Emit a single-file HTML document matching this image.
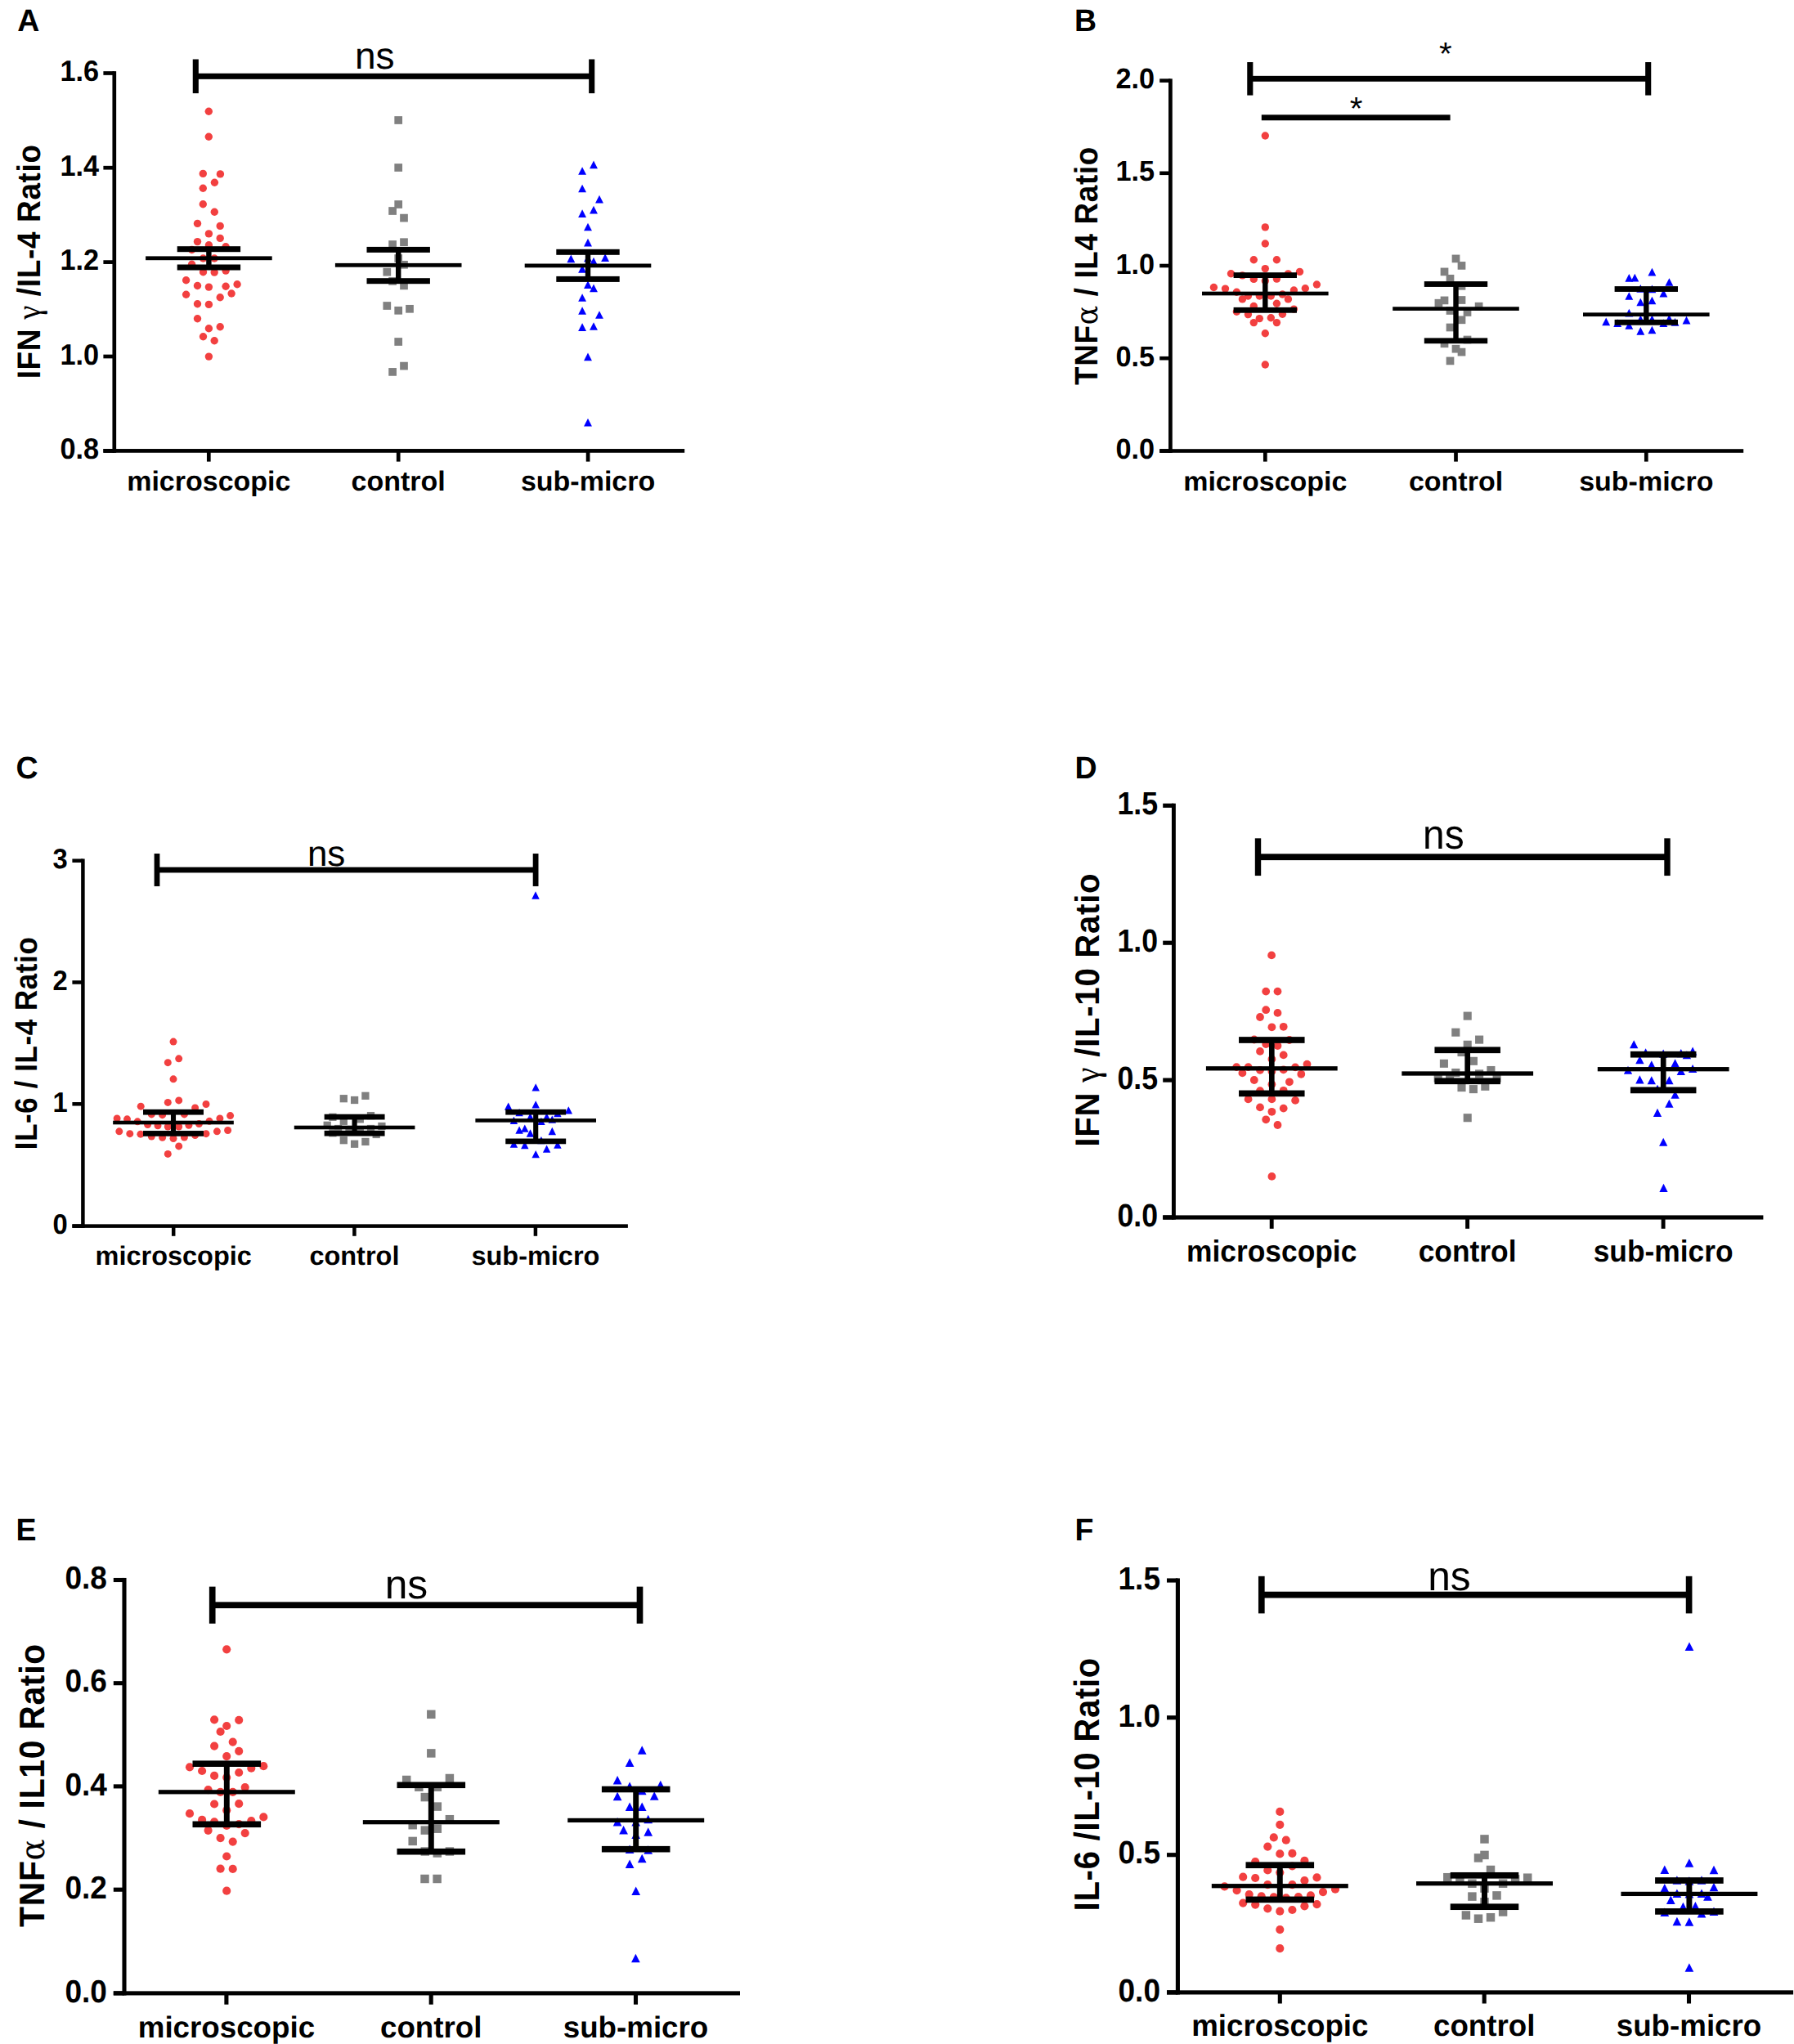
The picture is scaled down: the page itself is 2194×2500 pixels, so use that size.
<!DOCTYPE html>
<html lang="en"><head><meta charset="utf-8"><title>Cytokine ratio scatter plots</title>
<style>
html,body{margin:0;padding:0;background:#fff;}
body{width:2194px;height:2500px;overflow:hidden;}
svg{display:block;}
svg text{font-family:"Liberation Sans", Arial, Helvetica, sans-serif;fill:#000;text-rendering:geometricPrecision;}
</style></head><body>
<svg width="2194" height="2500" viewBox="0 0 2194 2500">
<rect width="2194" height="2500" fill="#fff"/>
<g id="panel-A">
<g fill="#F24040"><circle cx="255.3" cy="136.2" r="4.7"/><circle cx="255.3" cy="167.3" r="4.7"/><circle cx="248.3" cy="212.4" r="4.7"/><circle cx="269.4" cy="212.9" r="4.7"/><circle cx="262.4" cy="223.2" r="4.7"/><circle cx="248.3" cy="230.2" r="4.7"/><circle cx="248.3" cy="249.8" r="4.7"/><circle cx="262.3" cy="259.2" r="4.7"/><circle cx="241.5" cy="273.4" r="4.7"/><circle cx="269.2" cy="276.4" r="4.7"/><circle cx="255.4" cy="285.9" r="4.7"/><circle cx="269.2" cy="291.4" r="4.7"/><circle cx="241.5" cy="295.6" r="4.7"/><circle cx="255.4" cy="299.8" r="4.7"/><circle cx="276.1" cy="301.8" r="4.7"/><circle cx="234.6" cy="305.5" r="4.7"/><circle cx="248.5" cy="316" r="4.7"/><circle cx="262.2" cy="316" r="4.7"/><circle cx="234.6" cy="323.2" r="4.7"/><circle cx="248.5" cy="332.7" r="4.7"/><circle cx="262.2" cy="333.1" r="4.7"/><circle cx="276.1" cy="331.1" r="4.7"/><circle cx="227.6" cy="342.8" r="4.7"/><circle cx="290.1" cy="347.8" r="4.7"/><circle cx="241.5" cy="349.5" r="4.7"/><circle cx="255.4" cy="351.1" r="4.7"/><circle cx="276.1" cy="350.3" r="4.7"/><circle cx="283.1" cy="359" r="4.7"/><circle cx="227.6" cy="360.3" r="4.7"/><circle cx="269.2" cy="363.7" r="4.7"/><circle cx="241.5" cy="371.7" r="4.7"/><circle cx="255.4" cy="372.4" r="4.7"/><circle cx="241.5" cy="389.8" r="4.7"/><circle cx="269.2" cy="399.8" r="4.7"/><circle cx="255.4" cy="401.8" r="4.7"/><circle cx="248.5" cy="411.8" r="4.7"/><circle cx="262.2" cy="416.7" r="4.7"/><circle cx="255.4" cy="436.1" r="4.7"/></g>
<g fill="#808080"><rect x="482.35" y="142.15" width="9.7" height="9.7"/><rect x="482.35" y="200.15" width="9.7" height="9.7"/><rect x="482.35" y="245.15" width="9.7" height="9.7"/><rect x="475.25" y="253.15" width="9.7" height="9.7"/><rect x="489.15" y="261.75" width="9.7" height="9.7"/><rect x="489.15" y="291.35" width="9.7" height="9.7"/><rect x="475.25" y="294.15" width="9.7" height="9.7"/><rect x="482.35" y="311.15" width="9.7" height="9.7"/><rect x="489.15" y="318.95" width="9.7" height="9.7"/><rect x="468.45" y="327.85" width="9.7" height="9.7"/><rect x="475.25" y="339.05" width="9.7" height="9.7"/><rect x="489.15" y="344.55" width="9.7" height="9.7"/><rect x="468.45" y="369.15" width="9.7" height="9.7"/><rect x="482.35" y="374.95" width="9.7" height="9.7"/><rect x="496.15" y="372.95" width="9.7" height="9.7"/><rect x="482.35" y="413.15" width="9.7" height="9.7"/><rect x="489.15" y="442.75" width="9.7" height="9.7"/><rect x="475.25" y="450.05" width="9.7" height="9.7"/></g>
<g fill="#0000FF"><polygon points="726,196.45 730.95,206.15 721.05,206.15"/><polygon points="712.1,204.15 717.05,213.85 707.15,213.85"/><polygon points="712.1,225.65 717.05,235.35 707.15,235.35"/><polygon points="733,238.75 737.95,248.45 728.05,248.45"/><polygon points="726,251.75 730.95,261.45 721.05,261.45"/><polygon points="712.1,256.25 717.05,265.95 707.15,265.95"/><polygon points="719,272.65 723.95,282.35 714.05,282.35"/><polygon points="719,291.75 723.95,301.45 714.05,301.45"/><polygon points="698.3,311.45 703.25,321.15 693.35,321.15"/><polygon points="740.1,310.35 745.05,320.05 735.15,320.05"/><polygon points="719,310.65 723.95,320.35 714.05,320.35"/><polygon points="726,314.85 730.95,324.55 721.05,324.55"/><polygon points="712.1,324.05 717.05,333.75 707.15,333.75"/><polygon points="719,343.25 723.95,352.95 714.05,352.95"/><polygon points="726,347.45 730.95,357.15 721.05,357.15"/><polygon points="712.1,359.15 717.05,368.85 707.15,368.85"/><polygon points="712.1,375.15 717.05,384.85 707.15,384.85"/><polygon points="733,380.15 737.95,389.85 728.05,389.85"/><polygon points="712.1,395.35 717.05,405.05 707.15,405.05"/><polygon points="726,394.15 730.95,403.85 721.05,403.85"/><polygon points="719,431.45 723.95,441.15 714.05,441.15"/><polygon points="719,511.75 723.95,521.45 714.05,521.45"/></g>
<rect x="178.1" y="313.4" width="154.6" height="4.8" fill="#000"/>
<rect x="216.7" y="301.2" width="77.4" height="7" fill="#000"/>
<rect x="216.7" y="323.5" width="77.4" height="7" fill="#000"/>
<rect x="252.2" y="304.7" width="6.4" height="22.3" fill="#000"/>
<rect x="409.9" y="321.9" width="154.6" height="4.8" fill="#000"/>
<rect x="448.5" y="301.9" width="77.4" height="7" fill="#000"/>
<rect x="448.5" y="340.2" width="77.4" height="7" fill="#000"/>
<rect x="484" y="305.4" width="6.4" height="38.3" fill="#000"/>
<rect x="641.7" y="322.5" width="154.6" height="4.8" fill="#000"/>
<rect x="680.3" y="304.8" width="77.4" height="7" fill="#000"/>
<rect x="680.3" y="337.9" width="77.4" height="7" fill="#000"/>
<rect x="715.8" y="308.3" width="6.4" height="33.1" fill="#000"/>
<rect x="137.45" y="87.15" width="4.7" height="466.6" fill="#000"/>
<rect x="126.4" y="549.05" width="710.8" height="4.7" fill="#000"/>
<rect x="126.4" y="87.15" width="13.4" height="4.7" fill="#000"/>
<text transform="translate(121.2,99.36) scale(1,1.045)" font-size="34.3" font-weight="bold" text-anchor="end">1.6</text>
<rect x="126.4" y="202.85" width="13.4" height="4.7" fill="#000"/>
<text transform="translate(121.2,215.06) scale(1,1.045)" font-size="34.3" font-weight="bold" text-anchor="end">1.4</text>
<rect x="126.4" y="318.25" width="13.4" height="4.7" fill="#000"/>
<text transform="translate(121.2,330.46) scale(1,1.045)" font-size="34.3" font-weight="bold" text-anchor="end">1.2</text>
<rect x="126.4" y="433.65" width="13.4" height="4.7" fill="#000"/>
<text transform="translate(121.2,445.86) scale(1,1.045)" font-size="34.3" font-weight="bold" text-anchor="end">1.0</text>
<rect x="126.4" y="549.05" width="13.4" height="4.7" fill="#000"/>
<text transform="translate(121.2,561.26) scale(1,1.045)" font-size="34.3" font-weight="bold" text-anchor="end">0.8</text>
<rect x="252.95" y="551.4" width="4.7" height="13.2" fill="#000"/>
<text transform="translate(255.3,600.3) scale(1,0.995)" font-size="34" font-weight="bold" text-anchor="middle">microscopic</text>
<rect x="484.85" y="551.4" width="4.7" height="13.2" fill="#000"/>
<text transform="translate(487.2,600.3) scale(1,0.995)" font-size="34" font-weight="bold" text-anchor="middle">control</text>
<rect x="716.75" y="551.4" width="4.7" height="13.2" fill="#000"/>
<text transform="translate(719.1,600.3) scale(1,0.995)" font-size="34" font-weight="bold" text-anchor="middle">sub-micro</text>
<text transform="translate(49,319.8) rotate(-90) scale(0.9667,1.045)" font-size="38.2" font-weight="bold" letter-spacing="0.7" text-anchor="middle" xml:space="preserve">IFN <tspan font-family='"Liberation Serif", "DejaVu Serif", serif' font-weight="normal" font-size="40">γ</tspan> /IL-4 Ratio</text>
<rect x="239.3" y="89.75" width="484.4" height="7.1" fill="#000"/>
<rect x="235.75" y="72.5" width="7.1" height="41.6" fill="#000"/>
<rect x="720.15" y="72.5" width="7.1" height="41.6" fill="#000"/>
<text x="458.2" y="83.5" font-size="46" font-weight="normal" text-anchor="middle">ns</text>
<text transform="translate(21.3,37.6) scale(1,1.016)" font-size="37.5" font-weight="bold" text-anchor="start">A</text>
</g>
<g id="panel-B">
<g fill="#F24040"><circle cx="1547.3" cy="166" r="4.7"/><circle cx="1547.3" cy="277.9" r="4.7"/><circle cx="1547.3" cy="298" r="4.7"/><circle cx="1533.3" cy="317.7" r="4.7"/><circle cx="1561.4" cy="317.7" r="4.7"/><circle cx="1547.3" cy="328.6" r="4.7"/><circle cx="1505.5" cy="334.7" r="4.7"/><circle cx="1589.5" cy="332.4" r="4.7"/><circle cx="1519.4" cy="336.9" r="4.7"/><circle cx="1575.4" cy="334.9" r="4.7"/><circle cx="1533.3" cy="341.4" r="4.7"/><circle cx="1561.4" cy="341.1" r="4.7"/><circle cx="1547.3" cy="343.6" r="4.7"/><circle cx="1610.4" cy="348" r="4.7"/><circle cx="1484.4" cy="351.5" r="4.7"/><circle cx="1498.5" cy="353.1" r="4.7"/><circle cx="1596.3" cy="352.8" r="4.7"/><circle cx="1582.4" cy="355" r="4.7"/><circle cx="1512.4" cy="357.3" r="4.7"/><circle cx="1568.4" cy="360" r="4.7"/><circle cx="1526.4" cy="362" r="4.7"/><circle cx="1540.3" cy="362" r="4.7"/><circle cx="1554.3" cy="362" r="4.7"/><circle cx="1519.4" cy="365.9" r="4.7"/><circle cx="1575.4" cy="365.9" r="4.7"/><circle cx="1561.4" cy="371.2" r="4.7"/><circle cx="1533.3" cy="374.5" r="4.7"/><circle cx="1582.4" cy="378.1" r="4.7"/><circle cx="1512.4" cy="381.2" r="4.7"/><circle cx="1526.4" cy="384.6" r="4.7"/><circle cx="1568.4" cy="384.2" r="4.7"/><circle cx="1540.3" cy="389.6" r="4.7"/><circle cx="1554.3" cy="388.8" r="4.7"/><circle cx="1533.3" cy="394.6" r="4.7"/><circle cx="1561.4" cy="394.6" r="4.7"/><circle cx="1547.3" cy="407.8" r="4.7"/><circle cx="1547.3" cy="446" r="4.7"/></g>
<g fill="#808080"><rect x="1775.65" y="311.55" width="9.7" height="9.7"/><rect x="1782.65" y="320.05" width="9.7" height="9.7"/><rect x="1761.65" y="327.55" width="9.7" height="9.7"/><rect x="1768.65" y="335.95" width="9.7" height="9.7"/><rect x="1782.65" y="344.95" width="9.7" height="9.7"/><rect x="1782.65" y="362.15" width="9.7" height="9.7"/><rect x="1761.65" y="362.55" width="9.7" height="9.7"/><rect x="1754.55" y="365.85" width="9.7" height="9.7"/><rect x="1803.75" y="369.85" width="9.7" height="9.7"/><rect x="1768.65" y="375.15" width="9.7" height="9.7"/><rect x="1789.65" y="377.15" width="9.7" height="9.7"/><rect x="1782.65" y="386.45" width="9.7" height="9.7"/><rect x="1768.65" y="395.65" width="9.7" height="9.7"/><rect x="1789.65" y="410.65" width="9.7" height="9.7"/><rect x="1761.65" y="415.45" width="9.7" height="9.7"/><rect x="1775.65" y="421.85" width="9.7" height="9.7"/><rect x="1782.65" y="425.75" width="9.7" height="9.7"/><rect x="1768.65" y="436.55" width="9.7" height="9.7"/></g>
<g fill="#0000FF"><polygon points="2020.4,327.85 2025.35,337.55 2015.45,337.55"/><polygon points="1992.3,335.05 1997.25,344.75 1987.35,344.75"/><polygon points="1999.3,334.75 2004.25,344.45 1994.35,344.45"/><polygon points="2041.4,340.15 2046.35,349.85 2036.45,349.85"/><polygon points="2006.3,347.95 2011.25,357.65 2001.35,357.65"/><polygon points="2020.4,348.45 2025.35,358.15 2015.45,358.15"/><polygon points="2034.4,353.85 2039.35,363.55 2029.45,363.55"/><polygon points="1992.3,357.15 1997.25,366.85 1987.35,366.85"/><polygon points="2006.3,364.65 2011.25,374.35 2001.35,374.35"/><polygon points="2020.4,362.65 2025.35,372.35 2015.45,372.35"/><polygon points="1992.3,377.75 1997.25,387.45 1987.35,387.45"/><polygon points="2006.3,385.55 2011.25,395.25 2001.35,395.25"/><polygon points="2020.4,385.55 2025.35,395.25 2015.45,395.25"/><polygon points="2041.4,384.75 2046.35,394.45 2036.45,394.45"/><polygon points="1964.2,388.55 1969.15,398.25 1959.25,398.25"/><polygon points="2062.5,386.75 2067.45,396.45 2057.55,396.45"/><polygon points="1978.2,390.25 1983.15,399.95 1973.25,399.95"/><polygon points="2034.4,390.25 2039.35,399.95 2029.45,399.95"/><polygon points="2048.5,388.95 2053.45,398.65 2043.55,398.65"/><polygon points="1992.3,393.15 1997.25,402.85 1987.35,402.85"/><polygon points="2006.3,399.95 2011.25,409.65 2001.35,409.65"/><polygon points="2020.4,398.65 2025.35,408.35 2015.45,408.35"/></g>
<rect x="1470" y="356.66" width="154.6" height="4.68" fill="#000"/>
<rect x="1508.6" y="333.19" width="77.4" height="6.83" fill="#000"/>
<rect x="1508.6" y="375.89" width="77.4" height="6.83" fill="#000"/>
<rect x="1544.1" y="336.6" width="6.4" height="42.7" fill="#000"/>
<rect x="1703.2" y="375.26" width="154.6" height="4.68" fill="#000"/>
<rect x="1741.8" y="344.09" width="77.4" height="6.83" fill="#000"/>
<rect x="1741.8" y="413.39" width="77.4" height="6.83" fill="#000"/>
<rect x="1777.3" y="347.5" width="6.4" height="69.3" fill="#000"/>
<rect x="1936" y="382.36" width="154.6" height="4.68" fill="#000"/>
<rect x="1974.6" y="350.09" width="77.4" height="6.83" fill="#000"/>
<rect x="1974.6" y="390.89" width="77.4" height="6.83" fill="#000"/>
<rect x="2010.1" y="353.5" width="6.4" height="40.8" fill="#000"/>
<rect x="1429.05" y="96.31" width="4.7" height="457.48" fill="#000"/>
<rect x="1418.2" y="549.21" width="714" height="4.58" fill="#000"/>
<rect x="1418.2" y="96.31" width="13.2" height="4.58" fill="#000"/>
<text transform="translate(1412.1,108.21) scale(1,1.019)" font-size="34.3" font-weight="bold" text-anchor="end">2.0</text>
<rect x="1418.2" y="209.51" width="13.2" height="4.58" fill="#000"/>
<text transform="translate(1412.1,221.41) scale(1,1.019)" font-size="34.3" font-weight="bold" text-anchor="end">1.5</text>
<rect x="1418.2" y="322.71" width="13.2" height="4.58" fill="#000"/>
<text transform="translate(1412.1,334.61) scale(1,1.019)" font-size="34.3" font-weight="bold" text-anchor="end">1.0</text>
<rect x="1418.2" y="435.91" width="13.2" height="4.58" fill="#000"/>
<text transform="translate(1412.1,447.81) scale(1,1.019)" font-size="34.3" font-weight="bold" text-anchor="end">0.5</text>
<rect x="1418.2" y="549.21" width="13.2" height="4.58" fill="#000"/>
<text transform="translate(1412.1,561.11) scale(1,1.019)" font-size="34.3" font-weight="bold" text-anchor="end">0.0</text>
<rect x="1544.95" y="551.5" width="4.7" height="13.1" fill="#000"/>
<text transform="translate(1547.3,599.8) scale(1,0.9701)" font-size="34" font-weight="bold" text-anchor="middle">microscopic</text>
<rect x="1778.15" y="551.5" width="4.7" height="13.1" fill="#000"/>
<text transform="translate(1780.5,599.8) scale(1,0.9701)" font-size="34" font-weight="bold" text-anchor="middle">control</text>
<rect x="2010.95" y="551.5" width="4.7" height="13.1" fill="#000"/>
<text transform="translate(2013.3,599.8) scale(1,0.9701)" font-size="34" font-weight="bold" text-anchor="middle">sub-micro</text>
<text transform="translate(1342,325) rotate(-90) scale(0.9638,1.035)" font-size="38.2" font-weight="bold" letter-spacing="0.7" text-anchor="middle" xml:space="preserve">TNF<tspan font-family='"DejaVu Serif", "Liberation Serif", serif' font-weight="normal" font-size="36">α</tspan> / IL4 Ratio</text>
<rect x="1528.8" y="92.84" width="486.9" height="6.92" fill="#000"/>
<rect x="1525.25" y="76.02" width="7.1" height="40.56" fill="#000"/>
<rect x="2012.15" y="76.02" width="7.1" height="40.56" fill="#000"/>
<text transform="translate(1767.9,79.02) scale(1,0.975)" font-size="40.25" font-weight="normal" text-anchor="middle">*</text>
<rect x="1542.8" y="140.34" width="230.8" height="6.92" fill="#000"/>
<text transform="translate(1658.5,145.62) scale(1,0.975)" font-size="40.25" font-weight="normal" text-anchor="middle">*</text>
<text transform="translate(1314,37.6) scale(1,1.016)" font-size="37.5" font-weight="bold" text-anchor="start">B</text>
</g>
<g id="panel-C">
<g fill="#F24040"><circle cx="212" cy="1274.1" r="4.49"/><circle cx="218.7" cy="1294.8" r="4.49"/><circle cx="205.3" cy="1299.7" r="4.49"/><circle cx="212" cy="1319.8" r="4.49"/><circle cx="218.7" cy="1345.9" r="4.49"/><circle cx="205.3" cy="1348.4" r="4.49"/><circle cx="252" cy="1350.5" r="4.49"/><circle cx="172.2" cy="1353.2" r="4.49"/><circle cx="238.6" cy="1355" r="4.49"/><circle cx="185.3" cy="1362.9" r="4.49"/><circle cx="198.6" cy="1363.7" r="4.49"/><circle cx="225.4" cy="1362.9" r="4.49"/><circle cx="281.6" cy="1364.6" r="4.49"/><circle cx="143.1" cy="1367.9" r="4.49"/><circle cx="155.5" cy="1368.8" r="4.49"/><circle cx="268.9" cy="1367.9" r="4.49"/><circle cx="168.2" cy="1371.8" r="4.49"/><circle cx="256" cy="1371.3" r="4.49"/><circle cx="180.6" cy="1375.5" r="4.49"/><circle cx="193" cy="1376.8" r="4.49"/><circle cx="205.3" cy="1378" r="4.49"/><circle cx="218.7" cy="1378" r="4.49"/><circle cx="230.9" cy="1376.3" r="4.49"/><circle cx="243.4" cy="1374.6" r="4.49"/><circle cx="145.8" cy="1383.8" r="4.49"/><circle cx="158.8" cy="1386.7" r="4.49"/><circle cx="171.9" cy="1387.2" r="4.49"/><circle cx="252" cy="1386.7" r="4.49"/><circle cx="265.4" cy="1383.8" r="4.49"/><circle cx="278.6" cy="1382.5" r="4.49"/><circle cx="185.3" cy="1390" r="4.49"/><circle cx="198.6" cy="1391.3" r="4.49"/><circle cx="212" cy="1392.5" r="4.49"/><circle cx="225.4" cy="1391" r="4.49"/><circle cx="238.6" cy="1388.5" r="4.49"/><circle cx="218.7" cy="1401.9" r="4.49"/><circle cx="205.3" cy="1411.4" r="4.49"/></g>
<g fill="#808080"><rect x="442.27" y="1335.67" width="9.26" height="9.26"/><rect x="415.67" y="1339.07" width="9.26" height="9.26"/><rect x="428.97" y="1340.87" width="9.26" height="9.26"/><rect x="402.27" y="1361.67" width="9.26" height="9.26"/><rect x="448.87" y="1359.97" width="9.26" height="9.26"/><rect x="415.67" y="1366.67" width="9.26" height="9.26"/><rect x="435.67" y="1364.17" width="9.26" height="9.26"/><rect x="395.57" y="1371.67" width="9.26" height="9.26"/><rect x="462.27" y="1372.87" width="9.26" height="9.26"/><rect x="408.97" y="1375.87" width="9.26" height="9.26"/><rect x="448.87" y="1375.87" width="9.26" height="9.26"/><rect x="422.37" y="1378.37" width="9.26" height="9.26"/><rect x="435.67" y="1379.17" width="9.26" height="9.26"/><rect x="402.27" y="1381.17" width="9.26" height="9.26"/><rect x="455.57" y="1382.87" width="9.26" height="9.26"/><rect x="415.67" y="1390.07" width="9.26" height="9.26"/><rect x="442.27" y="1391.77" width="9.26" height="9.26"/><rect x="428.97" y="1394.57" width="9.26" height="9.26"/></g>
<g fill="#0000FF"><polygon points="655,1090.37 659.73,1099.63 650.27,1099.63"/><polygon points="655.2,1325.17 659.93,1334.43 650.47,1334.43"/><polygon points="655.2,1346.27 659.93,1355.53 650.47,1355.53"/><polygon points="621.7,1348.57 626.43,1357.83 616.97,1357.83"/><polygon points="695.3,1353.27 700.03,1362.53 690.57,1362.53"/><polygon points="635.1,1356.07 639.83,1365.33 630.37,1365.33"/><polygon points="681.9,1357.07 686.63,1366.33 677.17,1366.33"/><polygon points="648.5,1361.17 653.23,1370.43 643.77,1370.43"/><polygon points="668.6,1361.17 673.33,1370.43 663.87,1370.43"/><polygon points="628.4,1365.77 633.13,1375.03 623.67,1375.03"/><polygon points="675.3,1364.47 680.03,1373.73 670.57,1373.73"/><polygon points="661.9,1366.67 666.63,1375.93 657.17,1375.93"/><polygon points="641.8,1375.47 646.53,1384.73 637.07,1384.73"/><polygon points="635.1,1377.47 639.83,1386.73 630.37,1386.73"/><polygon points="648.5,1381.37 653.23,1390.63 643.77,1390.63"/><polygon points="675.3,1378.87 680.03,1388.13 670.57,1388.13"/><polygon points="661.9,1390.07 666.63,1399.33 657.17,1399.33"/><polygon points="628.4,1394.57 633.13,1403.83 623.67,1403.83"/><polygon points="641.8,1395.87 646.53,1405.13 637.07,1405.13"/><polygon points="681.9,1395.37 686.63,1404.63 677.17,1404.63"/><polygon points="668.6,1400.57 673.33,1409.83 663.87,1409.83"/><polygon points="655.2,1407.07 659.93,1416.33 650.47,1416.33"/></g>
<rect x="138.18" y="1370.7" width="147.64" height="4.61" fill="#000"/>
<rect x="175.04" y="1356.84" width="73.92" height="6.72" fill="#000"/>
<rect x="175.04" y="1383.04" width="73.92" height="6.72" fill="#000"/>
<rect x="208.94" y="1360.2" width="6.11" height="26.2" fill="#000"/>
<rect x="359.78" y="1376.7" width="147.64" height="4.61" fill="#000"/>
<rect x="396.64" y="1362.74" width="73.92" height="6.72" fill="#000"/>
<rect x="396.64" y="1382.84" width="73.92" height="6.72" fill="#000"/>
<rect x="430.54" y="1366.1" width="6.11" height="20.1" fill="#000"/>
<rect x="581.38" y="1368.1" width="147.64" height="4.61" fill="#000"/>
<rect x="618.24" y="1356.84" width="73.92" height="6.72" fill="#000"/>
<rect x="618.24" y="1392.54" width="73.92" height="6.72" fill="#000"/>
<rect x="652.14" y="1360.2" width="6.11" height="35.7" fill="#000"/>
<rect x="99.16" y="1050.44" width="4.49" height="451.41" fill="#000"/>
<rect x="88.4" y="1497.34" width="679.5" height="4.51" fill="#000"/>
<rect x="88.4" y="1050.44" width="13" height="4.51" fill="#000"/>
<text transform="translate(82.8,1062.16) scale(0.955,1.003)" font-size="34.3" font-weight="bold" text-anchor="end">3</text>
<rect x="88.4" y="1199.24" width="13" height="4.51" fill="#000"/>
<text transform="translate(82.8,1210.96) scale(0.955,1.003)" font-size="34.3" font-weight="bold" text-anchor="end">2</text>
<rect x="88.4" y="1348.04" width="13" height="4.51" fill="#000"/>
<text transform="translate(82.8,1359.76) scale(0.955,1.003)" font-size="34.3" font-weight="bold" text-anchor="end">1</text>
<rect x="88.4" y="1497.34" width="13" height="4.51" fill="#000"/>
<text transform="translate(82.8,1509.06) scale(0.955,1.003)" font-size="34.3" font-weight="bold" text-anchor="end">0</text>
<rect x="209.96" y="1499.6" width="4.49" height="12.2" fill="#000"/>
<text transform="translate(212.2,1547.3) scale(0.955,0.9552)" font-size="34" font-weight="bold" text-anchor="middle">microscopic</text>
<rect x="431.16" y="1499.6" width="4.49" height="12.2" fill="#000"/>
<text transform="translate(433.4,1547.3) scale(0.955,0.9552)" font-size="34" font-weight="bold" text-anchor="middle">control</text>
<rect x="652.66" y="1499.6" width="4.49" height="12.2" fill="#000"/>
<text transform="translate(654.9,1547.3) scale(0.955,0.9552)" font-size="34" font-weight="bold" text-anchor="middle">sub-micro</text>
<text transform="translate(45,1275.9) rotate(-90) scale(0.912,0.998)" font-size="38.2" font-weight="bold" letter-spacing="0.7" text-anchor="middle" xml:space="preserve">IL-6 / IL-4 Ratio</text>
<rect x="192" y="1060.59" width="463.1" height="6.82" fill="#000"/>
<rect x="188.61" y="1044.03" width="6.78" height="39.94" fill="#000"/>
<rect x="651.71" y="1044.03" width="6.78" height="39.94" fill="#000"/>
<text transform="translate(399.1,1058.7) scale(0.955,0.96)" font-size="46" font-weight="normal" text-anchor="middle">ns</text>
<text transform="translate(19.6,952.3) scale(1,1.016)" font-size="37.5" font-weight="bold" text-anchor="start">C</text>
</g>
<g id="panel-D">
<g fill="#F24040"><circle cx="1555.1" cy="1168.4" r="4.89"/><circle cx="1548.2" cy="1212.6" r="4.89"/><circle cx="1562.5" cy="1212.6" r="4.89"/><circle cx="1548.2" cy="1235.2" r="4.89"/><circle cx="1562.5" cy="1238.9" r="4.89"/><circle cx="1541" cy="1244" r="4.89"/><circle cx="1555.4" cy="1256.3" r="4.89"/><circle cx="1569.7" cy="1255.8" r="4.89"/><circle cx="1533.8" cy="1271.5" r="4.89"/><circle cx="1576.9" cy="1272" r="4.89"/><circle cx="1548.2" cy="1277" r="4.89"/><circle cx="1562.5" cy="1279" r="4.89"/><circle cx="1541" cy="1285.9" r="4.89"/><circle cx="1569.7" cy="1290.4" r="4.89"/><circle cx="1555.4" cy="1295.4" r="4.89"/><circle cx="1598.5" cy="1301.6" r="4.89"/><circle cx="1512.2" cy="1305.1" r="4.89"/><circle cx="1526.6" cy="1305.1" r="4.89"/><circle cx="1584.1" cy="1305.4" r="4.89"/><circle cx="1541" cy="1308.8" r="4.89"/><circle cx="1569.7" cy="1308.4" r="4.89"/><circle cx="1555.4" cy="1310.4" r="4.89"/><circle cx="1519.4" cy="1312.4" r="4.89"/><circle cx="1591.3" cy="1313.8" r="4.89"/><circle cx="1533.8" cy="1321" r="4.89"/><circle cx="1576.9" cy="1323.3" r="4.89"/><circle cx="1555.4" cy="1326.3" r="4.89"/><circle cx="1541" cy="1334.2" r="4.89"/><circle cx="1569.7" cy="1333.8" r="4.89"/><circle cx="1526.6" cy="1344.4" r="4.89"/><circle cx="1555.4" cy="1344.4" r="4.89"/><circle cx="1584.1" cy="1345.9" r="4.89"/><circle cx="1541" cy="1354.4" r="4.89"/><circle cx="1569.7" cy="1355.6" r="4.89"/><circle cx="1555.4" cy="1359.8" r="4.89"/><circle cx="1548.2" cy="1369.3" r="4.89"/><circle cx="1562.5" cy="1376" r="4.89"/><circle cx="1555.4" cy="1438.9" r="4.89"/></g>
<g fill="#808080"><rect x="1789.66" y="1237.56" width="10.09" height="10.09"/><rect x="1775.26" y="1257.66" width="10.09" height="10.09"/><rect x="1804.06" y="1266.56" width="10.09" height="10.09"/><rect x="1789.66" y="1272.76" width="10.09" height="10.09"/><rect x="1782.46" y="1281.96" width="10.09" height="10.09"/><rect x="1796.86" y="1292.76" width="10.09" height="10.09"/><rect x="1760.86" y="1295.76" width="10.09" height="10.09"/><rect x="1775.26" y="1306.96" width="10.09" height="10.09"/><rect x="1818.36" y="1303.96" width="10.09" height="10.09"/><rect x="1804.06" y="1308.36" width="10.09" height="10.09"/><rect x="1753.66" y="1313.66" width="10.09" height="10.09"/><rect x="1768.06" y="1312.86" width="10.09" height="10.09"/><rect x="1825.56" y="1313.66" width="10.09" height="10.09"/><rect x="1782.46" y="1325.06" width="10.09" height="10.09"/><rect x="1796.86" y="1327.06" width="10.09" height="10.09"/><rect x="1811.26" y="1323.76" width="10.09" height="10.09"/><rect x="1789.66" y="1362.16" width="10.09" height="10.09"/></g>
<g fill="#0000FF"><polygon points="1998.2,1272.26 2003.35,1282.34 1993.05,1282.34"/><polygon points="2012.6,1282.26 2017.75,1292.34 2007.45,1292.34"/><polygon points="2034.2,1283.56 2039.35,1293.64 2029.05,1293.64"/><polygon points="2055.8,1283.06 2060.95,1293.14 2050.65,1293.14"/><polygon points="2070.1,1280.56 2075.25,1290.64 2064.95,1290.64"/><polygon points="2062.9,1285.26 2068.05,1295.34 2057.75,1295.34"/><polygon points="2005.4,1291.16 2010.55,1301.24 2000.25,1301.24"/><polygon points="2019.8,1297.26 2024.95,1307.34 2014.65,1307.34"/><polygon points="2048.6,1295.26 2053.75,1305.34 2043.45,1305.34"/><polygon points="1991,1303.66 1996.15,1313.74 1985.85,1313.74"/><polygon points="2070.1,1301.96 2075.25,1312.04 2064.95,1312.04"/><polygon points="2055.8,1304.96 2060.95,1315.04 2050.65,1315.04"/><polygon points="2005.4,1315.36 2010.55,1325.44 2000.25,1325.44"/><polygon points="2019.8,1316.16 2024.95,1326.24 2014.65,1326.24"/><polygon points="2041.4,1316.16 2046.55,1326.24 2036.25,1326.24"/><polygon points="2027,1326.76 2032.15,1336.84 2021.85,1336.84"/><polygon points="2048.6,1333.76 2053.75,1343.84 2043.45,1343.84"/><polygon points="2041.4,1344.66 2046.55,1354.74 2036.25,1354.74"/><polygon points="2027,1355.86 2032.15,1365.94 2021.85,1365.94"/><polygon points="2034.2,1391.76 2039.35,1401.84 2029.05,1401.84"/><polygon points="2034.5,1447.86 2039.65,1457.94 2029.35,1457.94"/></g>
<rect x="1474.91" y="1304.16" width="160.78" height="5.28" fill="#000"/>
<rect x="1515.05" y="1268.15" width="80.5" height="7.7" fill="#000"/>
<rect x="1515.05" y="1333.55" width="80.5" height="7.7" fill="#000"/>
<rect x="1551.97" y="1272" width="6.66" height="65.4" fill="#000"/>
<rect x="1714.31" y="1310.36" width="160.78" height="5.28" fill="#000"/>
<rect x="1754.45" y="1280.45" width="80.5" height="7.7" fill="#000"/>
<rect x="1754.45" y="1318.45" width="80.5" height="7.7" fill="#000"/>
<rect x="1791.37" y="1284.3" width="6.66" height="38" fill="#000"/>
<rect x="1953.81" y="1305.06" width="160.78" height="5.28" fill="#000"/>
<rect x="1993.95" y="1285.85" width="80.5" height="7.7" fill="#000"/>
<rect x="1993.95" y="1329.55" width="80.5" height="7.7" fill="#000"/>
<rect x="2030.87" y="1289.7" width="6.66" height="43.7" fill="#000"/>
<rect x="1432.96" y="982.71" width="4.89" height="508.87" fill="#000"/>
<rect x="1422.2" y="1486.41" width="734.2" height="5.17" fill="#000"/>
<rect x="1422.2" y="982.71" width="13.2" height="5.17" fill="#000"/>
<text transform="translate(1416.1,996.14) scale(1.04,1.149)" font-size="34.3" font-weight="bold" text-anchor="end">1.5</text>
<rect x="1422.2" y="1150.62" width="13.2" height="5.17" fill="#000"/>
<text transform="translate(1416.1,1164.04) scale(1.04,1.149)" font-size="34.3" font-weight="bold" text-anchor="end">1.0</text>
<rect x="1422.2" y="1318.51" width="13.2" height="5.17" fill="#000"/>
<text transform="translate(1416.1,1331.94) scale(1.04,1.149)" font-size="34.3" font-weight="bold" text-anchor="end">0.5</text>
<rect x="1422.2" y="1486.41" width="13.2" height="5.17" fill="#000"/>
<text transform="translate(1416.1,1499.84) scale(1.04,1.149)" font-size="34.3" font-weight="bold" text-anchor="end">0.0</text>
<rect x="1552.76" y="1489" width="4.89" height="13.8" fill="#000"/>
<text transform="translate(1555.2,1543.3) scale(1.04,1.095)" font-size="34" font-weight="bold" text-anchor="middle">microscopic</text>
<rect x="1792.16" y="1489" width="4.89" height="13.8" fill="#000"/>
<text transform="translate(1794.6,1543.3) scale(1.04,1.095)" font-size="34" font-weight="bold" text-anchor="middle">control</text>
<rect x="2031.66" y="1489" width="4.89" height="13.8" fill="#000"/>
<text transform="translate(2034.1,1543.3) scale(1.04,1.095)" font-size="34" font-weight="bold" text-anchor="middle">sub-micro</text>
<text transform="translate(1344.3,1235.2) rotate(-90) scale(1.051,1.087)" font-size="38.2" font-weight="bold" letter-spacing="0.7" text-anchor="middle" xml:space="preserve">IFN <tspan font-family='"Liberation Serif", "DejaVu Serif", serif' font-weight="normal" font-size="40">γ</tspan> /IL-10 Ratio</text>
<rect x="1538.5" y="1044.3" width="500.5" height="7.81" fill="#000"/>
<rect x="1534.81" y="1025.32" width="7.38" height="45.76" fill="#000"/>
<rect x="2035.31" y="1025.32" width="7.38" height="45.76" fill="#000"/>
<text transform="translate(1765.3,1037.8) scale(1.04,1.1)" font-size="46" font-weight="normal" text-anchor="middle">ns</text>
<text transform="translate(1314.5,952.3) scale(1,1.016)" font-size="37.5" font-weight="bold" text-anchor="start">D</text>
</g>
<g id="panel-E">
<g fill="#F24040"><circle cx="277.2" cy="2017.3" r="5.08"/><circle cx="262.1" cy="2103.3" r="5.08"/><circle cx="292.2" cy="2103.8" r="5.08"/><circle cx="277.2" cy="2111" r="5.08"/><circle cx="269.6" cy="2118" r="5.08"/><circle cx="284.7" cy="2130.6" r="5.08"/><circle cx="262.1" cy="2135.6" r="5.08"/><circle cx="292.2" cy="2141.8" r="5.08"/><circle cx="277.2" cy="2148.1" r="5.08"/><circle cx="232" cy="2161.3" r="5.08"/><circle cx="322.3" cy="2160.2" r="5.08"/><circle cx="307.3" cy="2162.7" r="5.08"/><circle cx="247.1" cy="2166" r="5.08"/><circle cx="292.2" cy="2168" r="5.08"/><circle cx="262.1" cy="2171.9" r="5.08"/><circle cx="277.2" cy="2174" r="5.08"/><circle cx="299.7" cy="2186.1" r="5.08"/><circle cx="254.6" cy="2189.1" r="5.08"/><circle cx="269.6" cy="2191.9" r="5.08"/><circle cx="284.7" cy="2191.9" r="5.08"/><circle cx="262.1" cy="2206.5" r="5.08"/><circle cx="292.2" cy="2206.2" r="5.08"/><circle cx="277.2" cy="2214.2" r="5.08"/><circle cx="232" cy="2218.2" r="5.08"/><circle cx="322.3" cy="2222.4" r="5.08"/><circle cx="247.1" cy="2225.9" r="5.08"/><circle cx="262.1" cy="2228.4" r="5.08"/><circle cx="307.3" cy="2227.1" r="5.08"/><circle cx="292.2" cy="2231.2" r="5.08"/><circle cx="277.2" cy="2232.9" r="5.08"/><circle cx="254.6" cy="2238.8" r="5.08"/><circle cx="299.7" cy="2242.1" r="5.08"/><circle cx="269.6" cy="2248.1" r="5.08"/><circle cx="284.7" cy="2252.6" r="5.08"/><circle cx="277.2" cy="2270.5" r="5.08"/><circle cx="269.6" cy="2285.6" r="5.08"/><circle cx="284.7" cy="2285.9" r="5.08"/><circle cx="277.2" cy="2312.7" r="5.08"/></g>
<g fill="#808080"><rect x="522.06" y="2091.56" width="10.48" height="10.48"/><rect x="522.06" y="2139.16" width="10.48" height="10.48"/><rect x="491.96" y="2171.76" width="10.48" height="10.48"/><rect x="544.66" y="2169.76" width="10.48" height="10.48"/><rect x="507.06" y="2180.46" width="10.48" height="10.48"/><rect x="529.56" y="2180.46" width="10.48" height="10.48"/><rect x="514.56" y="2192.86" width="10.48" height="10.48"/><rect x="529.56" y="2204.36" width="10.48" height="10.48"/><rect x="544.66" y="2219.96" width="10.48" height="10.48"/><rect x="499.46" y="2226.96" width="10.48" height="10.48"/><rect x="514.56" y="2233.36" width="10.48" height="10.48"/><rect x="529.56" y="2231.46" width="10.48" height="10.48"/><rect x="499.46" y="2246.66" width="10.48" height="10.48"/><rect x="514.56" y="2259.26" width="10.48" height="10.48"/><rect x="544.66" y="2259.26" width="10.48" height="10.48"/><rect x="529.56" y="2261.26" width="10.48" height="10.48"/><rect x="514.26" y="2292.76" width="10.48" height="10.48"/><rect x="529.36" y="2292.76" width="10.48" height="10.48"/></g>
<g fill="#0000FF"><polygon points="785.2,2135.36 790.55,2145.84 779.85,2145.84"/><polygon points="770.1,2150.46 775.45,2160.94 764.75,2160.94"/><polygon points="755.1,2171.96 760.45,2182.44 749.75,2182.44"/><polygon points="770.1,2179.46 775.45,2189.94 764.75,2189.94"/><polygon points="807.8,2177.86 813.15,2188.34 802.45,2188.34"/><polygon points="785.2,2184.66 790.55,2195.14 779.85,2195.14"/><polygon points="755.1,2191.76 760.45,2202.24 749.75,2202.24"/><polygon points="800.2,2191.26 805.55,2201.74 794.85,2201.74"/><polygon points="770.1,2204.56 775.45,2215.04 764.75,2215.04"/><polygon points="785.2,2204.56 790.55,2215.04 779.85,2215.04"/><polygon points="792.7,2219.66 798.05,2230.14 787.35,2230.14"/><polygon points="755.1,2222.96 760.45,2233.44 749.75,2233.44"/><polygon points="777.7,2222.96 783.05,2233.44 772.35,2233.44"/><polygon points="762.6,2233.06 767.95,2243.54 757.25,2243.54"/><polygon points="792.7,2235.16 798.05,2245.64 787.35,2245.64"/><polygon points="777.7,2238.56 783.05,2249.04 772.35,2249.04"/><polygon points="770.1,2256.56 775.45,2267.04 764.75,2267.04"/><polygon points="792.7,2257.26 798.05,2267.74 787.35,2267.74"/><polygon points="785.2,2267.76 790.55,2278.24 779.85,2278.24"/><polygon points="770.1,2274.46 775.45,2284.94 764.75,2284.94"/><polygon points="777.7,2307.56 783.05,2318.04 772.35,2318.04"/><polygon points="777.4,2389.66 782.75,2400.14 772.05,2400.14"/></g>
<rect x="193.82" y="2189.2" width="166.97" height="5.21" fill="#000"/>
<rect x="235.5" y="2153.4" width="83.59" height="7.6" fill="#000"/>
<rect x="235.5" y="2227.5" width="83.59" height="7.6" fill="#000"/>
<rect x="273.84" y="2157.2" width="6.91" height="74.1" fill="#000"/>
<rect x="443.82" y="2226.1" width="166.97" height="5.21" fill="#000"/>
<rect x="485.5" y="2179.5" width="83.59" height="7.6" fill="#000"/>
<rect x="485.5" y="2260.9" width="83.59" height="7.6" fill="#000"/>
<rect x="523.84" y="2183.3" width="6.91" height="81.4" fill="#000"/>
<rect x="694.22" y="2223.8" width="166.97" height="5.21" fill="#000"/>
<rect x="735.9" y="2184.7" width="83.59" height="7.6" fill="#000"/>
<rect x="735.9" y="2257.9" width="83.59" height="7.6" fill="#000"/>
<rect x="774.24" y="2188.5" width="6.91" height="73.2" fill="#000"/>
<rect x="149.46" y="1929.95" width="5.08" height="510.5" fill="#000"/>
<rect x="138.8" y="2435.35" width="766.2" height="5.1" fill="#000"/>
<rect x="138.8" y="1929.95" width="13.2" height="5.1" fill="#000"/>
<text transform="translate(130.9,1943.19) scale(1.08,1.134)" font-size="34.3" font-weight="bold" text-anchor="end">0.8</text>
<rect x="138.8" y="2056.15" width="13.2" height="5.1" fill="#000"/>
<text transform="translate(130.9,2069.39) scale(1.08,1.134)" font-size="34.3" font-weight="bold" text-anchor="end">0.6</text>
<rect x="138.8" y="2182.35" width="13.2" height="5.1" fill="#000"/>
<text transform="translate(130.9,2195.59) scale(1.08,1.134)" font-size="34.3" font-weight="bold" text-anchor="end">0.4</text>
<rect x="138.8" y="2308.65" width="13.2" height="5.1" fill="#000"/>
<text transform="translate(130.9,2321.89) scale(1.08,1.134)" font-size="34.3" font-weight="bold" text-anchor="end">0.2</text>
<rect x="138.8" y="2435.35" width="13.2" height="5.1" fill="#000"/>
<text transform="translate(130.9,2448.59) scale(1.08,1.134)" font-size="34.3" font-weight="bold" text-anchor="end">0.0</text>
<rect x="274.36" y="2437.9" width="5.08" height="13.8" fill="#000"/>
<text transform="translate(276.9,2491.8) scale(1.08,1.08)" font-size="34" font-weight="bold" text-anchor="middle">microscopic</text>
<rect x="524.66" y="2437.9" width="5.08" height="13.8" fill="#000"/>
<text transform="translate(527.2,2491.8) scale(1.08,1.08)" font-size="34" font-weight="bold" text-anchor="middle">control</text>
<rect x="774.96" y="2437.9" width="5.08" height="13.8" fill="#000"/>
<text transform="translate(777.5,2491.8) scale(1.08,1.08)" font-size="34" font-weight="bold" text-anchor="middle">sub-micro</text>
<text transform="translate(53.8,2183.5) rotate(-90) scale(1.068,1.134)" font-size="38.2" font-weight="bold" letter-spacing="0.7" text-anchor="middle" xml:space="preserve">TNF<tspan font-family='"DejaVu Serif", "Liberation Serif", serif' font-weight="normal" font-size="36">α</tspan> / IL10 Ratio</text>
<rect x="259.7" y="1959.35" width="522.8" height="7.7" fill="#000"/>
<rect x="255.87" y="1940.63" width="7.67" height="45.14" fill="#000"/>
<rect x="778.67" y="1940.63" width="7.67" height="45.14" fill="#000"/>
<text transform="translate(496.9,1954.6) scale(1.08,1.085)" font-size="46" font-weight="normal" text-anchor="middle">ns</text>
<text transform="translate(19.5,1884.1) scale(1,1.016)" font-size="37.5" font-weight="bold" text-anchor="start">E</text>
</g>
<g id="panel-F">
<g fill="#F24040"><circle cx="1565.3" cy="2215.9" r="5.08"/><circle cx="1565.3" cy="2231.8" r="5.08"/><circle cx="1557.8" cy="2247.4" r="5.08"/><circle cx="1572.8" cy="2250.7" r="5.08"/><circle cx="1550.3" cy="2258.6" r="5.08"/><circle cx="1565.3" cy="2267.4" r="5.08"/><circle cx="1580.4" cy="2266.9" r="5.08"/><circle cx="1535.2" cy="2277" r="5.08"/><circle cx="1595.4" cy="2275.8" r="5.08"/><circle cx="1580.4" cy="2282.5" r="5.08"/><circle cx="1550.3" cy="2287.5" r="5.08"/><circle cx="1565.3" cy="2290.3" r="5.08"/><circle cx="1520.2" cy="2295.7" r="5.08"/><circle cx="1535.2" cy="2297" r="5.08"/><circle cx="1610.5" cy="2296.4" r="5.08"/><circle cx="1595.4" cy="2300" r="5.08"/><circle cx="1550.3" cy="2305.1" r="5.08"/><circle cx="1580.4" cy="2305.1" r="5.08"/><circle cx="1497.6" cy="2307.4" r="5.08"/><circle cx="1512.6" cy="2312.1" r="5.08"/><circle cx="1633" cy="2310.7" r="5.08"/><circle cx="1618" cy="2314.1" r="5.08"/><circle cx="1527.7" cy="2317.1" r="5.08"/><circle cx="1542.7" cy="2319.3" r="5.08"/><circle cx="1602.9" cy="2318.4" r="5.08"/><circle cx="1557.8" cy="2320.4" r="5.08"/><circle cx="1572.8" cy="2321.3" r="5.08"/><circle cx="1587.9" cy="2320.1" r="5.08"/><circle cx="1520.2" cy="2327.6" r="5.08"/><circle cx="1535.2" cy="2329.6" r="5.08"/><circle cx="1610.5" cy="2329.1" r="5.08"/><circle cx="1595.4" cy="2331.3" r="5.08"/><circle cx="1550.3" cy="2334.3" r="5.08"/><circle cx="1580.4" cy="2336" r="5.08"/><circle cx="1565.3" cy="2337.7" r="5.08"/><circle cx="1565.3" cy="2360.1" r="5.08"/><circle cx="1565.3" cy="2383.1" r="5.08"/></g>
<g fill="#808080"><rect x="1810.26" y="2244.16" width="10.48" height="10.48"/><rect x="1810.26" y="2263.66" width="10.48" height="10.48"/><rect x="1802.76" y="2267.16" width="10.48" height="10.48"/><rect x="1817.76" y="2281.76" width="10.48" height="10.48"/><rect x="1765.06" y="2290.96" width="10.48" height="10.48"/><rect x="1862.96" y="2291.46" width="10.48" height="10.48"/><rect x="1780.16" y="2293.46" width="10.48" height="10.48"/><rect x="1847.86" y="2293.16" width="10.48" height="10.48"/><rect x="1795.16" y="2298.46" width="10.48" height="10.48"/><rect x="1832.86" y="2298.46" width="10.48" height="10.48"/><rect x="1810.26" y="2304.36" width="10.48" height="10.48"/><rect x="1795.16" y="2314.36" width="10.48" height="10.48"/><rect x="1825.26" y="2313.16" width="10.48" height="10.48"/><rect x="1810.26" y="2321.06" width="10.48" height="10.48"/><rect x="1832.86" y="2333.26" width="10.48" height="10.48"/><rect x="1787.66" y="2337.26" width="10.48" height="10.48"/><rect x="1817.76" y="2339.96" width="10.48" height="10.48"/><rect x="1802.76" y="2341.46" width="10.48" height="10.48"/></g>
<g fill="#0000FF"><polygon points="2066,2008.56 2071.35,2019.04 2060.65,2019.04"/><polygon points="2065.9,2273.36 2071.25,2283.84 2060.55,2283.84"/><polygon points="2035.8,2281.46 2041.15,2291.94 2030.45,2291.94"/><polygon points="2096,2281.76 2101.35,2292.24 2090.65,2292.24"/><polygon points="2050.9,2294.26 2056.25,2304.74 2045.55,2304.74"/><polygon points="2081,2294.26 2086.35,2304.74 2075.65,2304.74"/><polygon points="2065.9,2295.16 2071.25,2305.64 2060.55,2305.64"/><polygon points="2035.8,2303.96 2041.15,2314.44 2030.45,2314.44"/><polygon points="2096,2302.66 2101.35,2313.14 2090.65,2313.14"/><polygon points="2050.9,2310.56 2056.25,2321.04 2045.55,2321.04"/><polygon points="2081,2310.56 2086.35,2321.04 2075.65,2321.04"/><polygon points="2065.9,2311.06 2071.25,2321.54 2060.55,2321.54"/><polygon points="2088.5,2314.36 2093.85,2324.84 2083.15,2324.84"/><polygon points="2043.3,2318.56 2048.65,2329.04 2037.95,2329.04"/><polygon points="2058.4,2326.86 2063.75,2337.34 2053.05,2337.34"/><polygon points="2073.4,2326.06 2078.75,2336.54 2068.05,2336.54"/><polygon points="2035.8,2333.56 2041.15,2344.04 2030.45,2344.04"/><polygon points="2096,2332.46 2101.35,2342.94 2090.65,2342.94"/><polygon points="2081,2334.96 2086.35,2345.44 2075.65,2345.44"/><polygon points="2050.9,2344.76 2056.25,2355.24 2045.55,2355.24"/><polygon points="2065.9,2345.26 2071.25,2355.74 2060.55,2355.74"/><polygon points="2065.9,2401.16 2071.25,2411.64 2060.55,2411.64"/></g>
<rect x="1481.82" y="2304.07" width="166.97" height="5.26" fill="#000"/>
<rect x="1523.5" y="2277.37" width="83.59" height="7.66" fill="#000"/>
<rect x="1523.5" y="2319.57" width="83.59" height="7.66" fill="#000"/>
<rect x="1561.84" y="2281.2" width="6.91" height="42.2" fill="#000"/>
<rect x="1732.02" y="2301.07" width="166.97" height="5.26" fill="#000"/>
<rect x="1773.7" y="2289.97" width="83.59" height="7.66" fill="#000"/>
<rect x="1773.7" y="2328.37" width="83.59" height="7.66" fill="#000"/>
<rect x="1812.04" y="2293.8" width="6.91" height="38.4" fill="#000"/>
<rect x="1982.42" y="2313.77" width="166.97" height="5.26" fill="#000"/>
<rect x="2024.1" y="2296.17" width="83.59" height="7.66" fill="#000"/>
<rect x="2024.1" y="2334.07" width="83.59" height="7.66" fill="#000"/>
<rect x="2062.44" y="2300" width="6.91" height="37.9" fill="#000"/>
<rect x="1437.86" y="1930.43" width="5.08" height="509.05" fill="#000"/>
<rect x="1427" y="2434.33" width="766.1" height="5.15" fill="#000"/>
<rect x="1427" y="1930.43" width="13.4" height="5.15" fill="#000"/>
<text transform="translate(1419,1943.79) scale(1.08,1.144)" font-size="34.3" font-weight="bold" text-anchor="end">1.5</text>
<rect x="1427" y="2098.23" width="13.4" height="5.15" fill="#000"/>
<text transform="translate(1419,2111.59) scale(1.08,1.144)" font-size="34.3" font-weight="bold" text-anchor="end">1.0</text>
<rect x="1427" y="2266.13" width="13.4" height="5.15" fill="#000"/>
<text transform="translate(1419,2279.49) scale(1.08,1.144)" font-size="34.3" font-weight="bold" text-anchor="end">0.5</text>
<rect x="1427" y="2434.33" width="13.4" height="5.15" fill="#000"/>
<text transform="translate(1419,2447.69) scale(1.08,1.144)" font-size="34.3" font-weight="bold" text-anchor="end">0.0</text>
<rect x="1562.76" y="2436.9" width="5.08" height="13.6" fill="#000"/>
<text transform="translate(1565.3,2490) scale(1.08,1.09)" font-size="34" font-weight="bold" text-anchor="middle">microscopic</text>
<rect x="1812.66" y="2436.9" width="5.08" height="13.6" fill="#000"/>
<text transform="translate(1815.2,2490) scale(1.08,1.09)" font-size="34" font-weight="bold" text-anchor="middle">control</text>
<rect x="2062.96" y="2436.9" width="5.08" height="13.6" fill="#000"/>
<text transform="translate(2065.5,2490) scale(1.08,1.09)" font-size="34" font-weight="bold" text-anchor="middle">sub-micro</text>
<text transform="translate(1344.2,2182.2) rotate(-90) scale(1.048,1.134)" font-size="38.2" font-weight="bold" letter-spacing="0.7" text-anchor="middle" xml:space="preserve">IL-6 /IL-10 Ratio</text>
<rect x="1542.8" y="1946.71" width="522.8" height="7.77" fill="#000"/>
<rect x="1538.97" y="1927.82" width="7.67" height="45.55" fill="#000"/>
<rect x="2061.77" y="1927.82" width="7.67" height="45.55" fill="#000"/>
<text transform="translate(1772.4,1944.6) scale(1.08,1.095)" font-size="46" font-weight="normal" text-anchor="middle">ns</text>
<text transform="translate(1314.5,1883.8) scale(1,1.016)" font-size="37.5" font-weight="bold" text-anchor="start">F</text>
</g>
</svg>
</body></html>
